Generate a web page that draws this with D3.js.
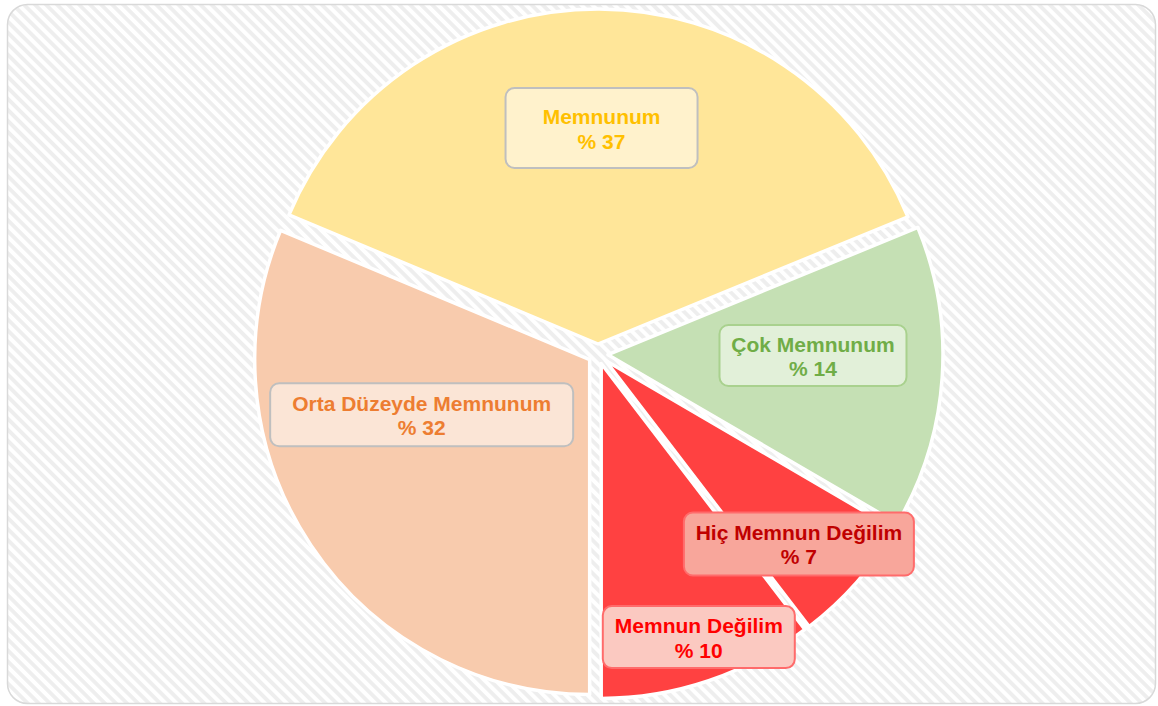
<!DOCTYPE html>
<html><head><meta charset="utf-8">
<script src="https://cdn.jsdelivr.net/npm/d3@7"></script>
<style>html,body{margin:0;padding:0;background:#fff;}svg{display:block;}</style>
</head><body>
<svg id="c" width="1158" height="706"></svg>
<script>
const categories = ["Orta Düzeyde Memnunum", "Memnunum", "Çok Memnunum", "Hiç Memnun Değilim", "Memnun Değilim"];
const values = [31.3, 37.5, 14.6, 6.2, 10.4];
const valueLabels = ["% 32", "% 37", "% 14", "% 7", "% 10"];

const sliceColors = ["#F8CBAD", "#FFE699", "#C5E0B4", "#FF4141", "#FF4141"];
const boxFill = ["#FBE5D6", "#FFF2CC", "#E2F0D9", "#F8A69B", "#FBC9C1"];
const boxStroke = ["#BFBFBF", "#BFBFBF", "#A9D18E", "#FF6B6B", "#FF6B6B"];
const textColor = ["#ED7D31", "#FFC000", "#70AD47", "#C00000", "#FF0000"];
// label layout: angle (deg, clockwise from top), distance from centre, box width, box height
const labelLayout = [[251, 186.5, 303, 63], [0.9, 226, 192, 80], [90.4, 215, 187, 61], [133.4, 276.5, 230, 63], [160.4, 300.5, 192, 62]];

const svg = d3.select("#c");
const defs = svg.append("defs");
const pat = defs.append("pattern").attr("id", "stripes").attr("patternUnits", "userSpaceOnUse")
  .attr("width", 7.8).attr("height", 7.8).attr("patternTransform", "rotate(45)");
pat.append("rect").attr("width", 7.8).attr("height", 7.8).attr("fill", "#ffffff");
pat.append("rect").attr("width", 7.8).attr("height", 3.8).attr("fill", "#eeeeee");

svg.append("rect").attr("x", 7.5).attr("y", 4.5).attr("width", 1148).attr("height", 699)
  .attr("rx", 20).attr("fill", "url(#stripes)").attr("stroke", "#d9d9d9").attr("stroke-width", 1.5);

const cx = 598, cy = 354, R = 335, explode = 10;
const pie = d3.pie().sort(null).startAngle(Math.PI).endAngle(3 * Math.PI);
const arcs = pie(values);
const arc = d3.arc().innerRadius(0).outerRadius(R);

const g = svg.append("g").attr("transform", `translate(${cx},${cy})`);
g.selectAll("path").data(arcs).join("path")
  .attr("d", arc)
  .attr("fill", (d, i) => sliceColors[i])
  .attr("stroke", "#fff").attr("stroke-width", 3.5).attr("stroke-linejoin", "round")
  .attr("transform", d => {
    const a = (d.startAngle + d.endAngle) / 2;
    return `translate(${explode * Math.sin(a)},${-explode * Math.cos(a)})`;
  });

const lg = g.selectAll("g.lab").data(arcs).join("g").attr("class", "lab")
  .attr("transform", (d, i) => {
    const a = labelLayout[i][0] * Math.PI / 180, r = labelLayout[i][1];
    return `translate(${r * Math.sin(a)},${-r * Math.cos(a)})`;
  });
lg.append("rect")
  .attr("x", (d, i) => -labelLayout[i][2] / 2).attr("y", (d, i) => -labelLayout[i][3] / 2)
  .attr("width", (d, i) => labelLayout[i][2]).attr("height", (d, i) => labelLayout[i][3])
  .attr("rx", 9).attr("fill", (d, i) => boxFill[i]).attr("stroke", (d, i) => boxStroke[i]).attr("stroke-width", 2);
lg.append("text").attr("text-anchor", "middle").attr("y", -4)
  .attr("font-family", "Liberation Sans, Arial, sans-serif").attr("font-weight", "bold").attr("font-size", 21)
  .attr("fill", (d, i) => textColor[i]).text((d, i) => categories[i]);
lg.append("text").attr("text-anchor", "middle").attr("y", 20.5)
  .attr("font-family", "Liberation Sans, Arial, sans-serif").attr("font-weight", "bold").attr("font-size", 21)
  .attr("fill", (d, i) => textColor[i]).text((d, i) => valueLabels[i]);
</script>
</body></html>
